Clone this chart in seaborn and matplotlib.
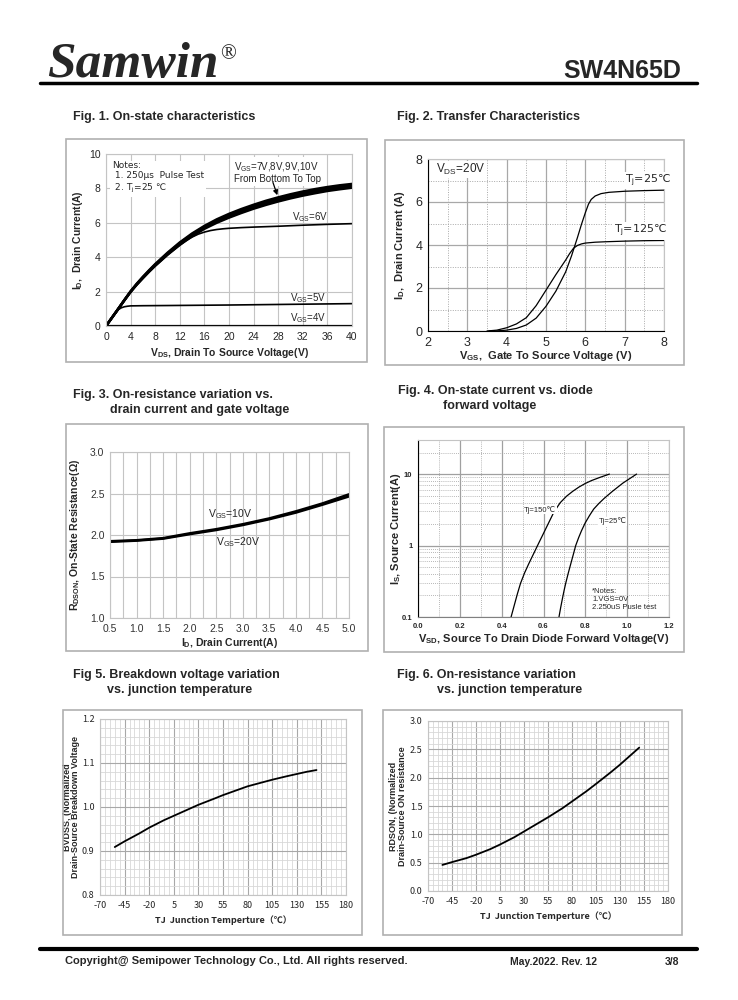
import matplotlib
matplotlib.use("Agg")
import matplotlib.pyplot as plt
import seaborn as sns
import numpy as np
from matplotlib.patches import Rectangle
from matplotlib.ticker import MultipleLocator, FixedLocator, NullFormatter

# Fig. 1 - on-state characteristics
fig1_vds = [0, 1, 2, 3, 4, 5, 6, 7, 8, 10, 12, 14, 16, 18, 20, 22, 24, 26, 28, 30, 32, 34, 36, 38, 40]
fig1_id_7v = [0, 0.5, 1.0, 1.5, 1.98, 2.4, 2.78, 3.15, 3.5, 4.14, 4.72, 5.22, 5.65, 6.0, 6.3, 6.57,
              6.82, 7.04, 7.24, 7.42, 7.58, 7.72, 7.85, 7.95, 8.04]
fig1_id_8v = [0, 0.5, 1.0, 1.5, 1.99, 2.42, 2.81, 3.18, 3.53, 4.18, 4.77, 5.27, 5.7, 6.07, 6.37, 6.65,
              6.9, 7.12, 7.32, 7.5, 7.66, 7.8, 7.93, 8.03, 8.11]
fig1_id_9v = [0, 0.5, 1.0, 1.51, 2.0, 2.44, 2.84, 3.21, 3.57, 4.22, 4.82, 5.33, 5.76, 6.14, 6.45, 6.73,
              6.98, 7.2, 7.4, 7.58, 7.74, 7.88, 8.01, 8.11, 8.19]
fig1_id_10v = [0, 0.5, 1.0, 1.52, 2.02, 2.46, 2.86, 3.24, 3.6, 4.26, 4.86, 5.38, 5.82, 6.2, 6.52, 6.8,
               7.05, 7.28, 7.48, 7.66, 7.82, 7.96, 8.08, 8.18, 8.26]
fig1_vds_6v = [0, 1, 2, 3, 4, 5, 6, 7, 8, 10, 12, 13, 14, 15, 16, 17, 18, 19, 20, 22, 24, 28, 32, 36, 40]
fig1_id_6v = [0, 0.5, 1.0, 1.5, 1.98, 2.4, 2.78, 3.15, 3.5, 4.14, 4.7, 4.96, 5.17, 5.34, 5.46, 5.55,
              5.61, 5.65, 5.68, 5.72, 5.75, 5.8, 5.86, 5.91, 5.95]
fig1_vds_5v = [0, 1, 2, 2.5, 3, 3.5, 4, 6, 10, 20, 30, 40]
fig1_id_5v = [0, 0.5, 0.95, 1.06, 1.12, 1.15, 1.17, 1.18, 1.19, 1.22, 1.26, 1.3]
fig1_vds_4v = [0, 40]
fig1_id_4v = [0.02, 0.02]

# Fig. 2 - transfer characteristics
fig2_vgs_25 = [3.55, 3.75, 4.0, 4.25, 4.5, 4.75, 5.0, 5.25, 5.5, 5.65, 5.8, 5.9, 6.0, 6.08, 6.15,
               6.25, 6.4, 6.6, 7.0, 7.5, 8.0]
fig2_id_25 = [0, 0.005, 0.04, 0.12, 0.28, 0.6, 1.15, 1.85, 2.75, 3.5, 4.35, 4.95, 5.5, 5.9, 6.12,
              6.28, 6.39, 6.45, 6.5, 6.53, 6.55]
fig2_vgs_125 = [3.5, 3.75, 4.0, 4.25, 4.5, 4.75, 5.0, 5.25, 5.5, 5.6, 5.7, 5.8, 5.9, 6.0, 6.25,
                6.5, 7.0, 7.5, 8.0]
fig2_id_125 = [0, 0.04, 0.15, 0.33, 0.62, 1.18, 1.9, 2.62, 3.3, 3.6, 3.85, 3.98, 4.05, 4.09, 4.13,
               4.15, 4.18, 4.2, 4.21]

# Fig. 3 - on-resistance vs drain current
fig3_id = [0.5, 1.0, 1.5, 2.0, 2.5, 3.0, 3.5, 4.0, 4.5, 5.0]
fig3_r_10v = [1.925, 1.937, 1.962, 2.02, 2.07, 2.13, 2.2, 2.285, 2.38, 2.49]
fig3_r_20v = [1.918, 1.932, 1.956, 2.01, 2.06, 2.12, 2.19, 2.27, 2.365, 2.465]

# Fig. 4 - diode forward voltage
fig4_vsd_150 = [0.445, 0.46, 0.475, 0.49, 0.51, 0.53, 0.55, 0.575, 0.6, 0.625, 0.65, 0.68,
                0.71, 0.74, 0.77, 0.80, 0.83, 0.87, 0.915]
fig4_is_150 = [0.1, 0.145, 0.21, 0.295, 0.417, 0.56, 0.74, 1.05, 1.48, 2.09, 2.95, 3.98,
               4.9, 5.75, 6.6, 7.4, 8.13, 9.0, 10]
fig4_vsd_25 = [0.674, 0.682, 0.69, 0.698, 0.706, 0.718, 0.73, 0.742, 0.754, 0.768, 0.782, 0.80,
               0.82, 0.84, 0.865, 0.89, 0.93, 0.98, 1.045]
fig4_is_25 = [0.1, 0.135, 0.178, 0.232, 0.295, 0.407, 0.55, 0.74, 1.0, 1.29, 1.62, 2.09,
              2.63, 3.24, 3.89, 4.57, 5.75, 7.5, 10]

# Fig. 5 / 6 - vs junction temperature
tj = [-55, -45, -30, -20, -5, 5, 20, 30, 45, 55, 70, 80, 95, 105, 120, 130, 140, 150]
fig5_bv = [0.909, 0.922, 0.94, 0.953, 0.97, 0.98, 0.995, 1.005, 1.018, 1.027, 1.039, 1.047,
           1.056, 1.062, 1.07, 1.075, 1.08, 1.084]
fig6_rdson = [0.46, 0.51, 0.58, 0.64, 0.74, 0.82, 0.95, 1.05, 1.2, 1.3, 1.46, 1.58,
              1.76, 1.89, 2.09, 2.23, 2.38, 2.53]
temp_ticks = [-70, -45, -20, 5, 30, 55, 80, 105, 130, 155, 180]

W, H = 738, 1000
GRID = '#c4c4c4'
NARROW = ['Liberation Sans Narrow', 'Noto Sans CJK SC', 'DejaVu Sans']

sns.set_style('white')
plt.rcParams['font.family'] = ['Liberation Sans', 'DejaVu Sans']
plt.rcParams['mathtext.fontset'] = 'custom'
plt.rcParams['mathtext.rm'] = 'Liberation Sans'
plt.rcParams['mathtext.it'] = 'Liberation Sans'
plt.rcParams['mathtext.bf'] = 'Liberation Sans:bold'
plt.rcParams['axes.unicode_minus'] = False


def fx(x):
    return x / W


def fy(y):
    return 1 - y / H


def frame(fig, x0, y0, x1, y1):
    fig.add_artist(Rectangle((fx(x0), fy(y1)), (x1 - x0) / W, (y1 - y0) / H,
                             transform=fig.transFigure, fill=False, ec='#b0b0b0', lw=1.2))


def make_ax(fig, x0, y0, x1, y1):
    ax = fig.add_axes([fx(x0), fy(y1), (x1 - x0) / W, (y1 - y0) / H])
    ax.set_axisbelow(True)
    for s in ax.spines.values():
        s.set_color(GRID)
        s.set_linewidth(0.8)
    return ax


def title(fig, x, y, s, size=9):
    fig.text(fx(x), fy(y), s, fontsize=size, fontweight='bold', va='center', ha='left')


fig = plt.figure(figsize=(7.38, 10), dpi=100)

# header / footer
fig.text(fx(47), fy(77), 'Samwin', family='Liberation Serif', fontsize=37,
         fontweight='bold', style='italic', va='baseline')
fig.text(fx(220), fy(59), '®', family='Liberation Serif', fontsize=15, va='baseline')
fig.text(fx(681), fy(78), 'SW4N65D', fontsize=18, fontweight='bold', ha='right', va='baseline')
fig.add_artist(plt.Line2D([fx(40), fx(697)], [fy(83), fy(83)], color='black', lw=2.5))
fig.add_artist(plt.Line2D([fx(40), fx(697)], [fy(949), fy(949)], color='black', lw=3))
fig.text(fx(65), fy(961), 'Copyright@ Semipower Technology Co., Ltd. All rights reserved.',
         fontsize=8, fontweight='bold', va='center')
fig.text(fx(510), fy(962), 'May.2022. Rev. 12', fontsize=7.5, fontweight='bold', va='center')
fig.text(fx(665), fy(962), '3/8', fontsize=7.5, fontweight='bold', va='center')

# ---------------- Fig 1 ----------------
title(fig, 73, 117, 'Fig. 1. On-state characteristics')
frame(fig, 66, 139, 367, 362)
ax = make_ax(fig, 106, 154, 352, 326)
for ids in (fig1_id_7v, fig1_id_8v, fig1_id_9v, fig1_id_10v):
    sns.lineplot(x=fig1_vds, y=ids, ax=ax, color='black', lw=1.8)
sns.lineplot(x=fig1_vds_6v, y=fig1_id_6v, ax=ax, color='black', lw=1.2)
sns.lineplot(x=fig1_vds_5v, y=fig1_id_5v, ax=ax, color='black', lw=1.2)
sns.lineplot(x=fig1_vds_4v, y=fig1_id_4v, ax=ax, color='black', lw=1.6)
ax.set_xlim(0, 40)
ax.set_ylim(0, 10)
ax.xaxis.set_major_locator(MultipleLocator(4))
ax.yaxis.set_major_locator(MultipleLocator(2))
ax.grid(True, color=GRID, lw=0.8)
ax.tick_params(length=0, labelsize=7.5, pad=4)
ax.set_xlabel(r'V$_\mathbf{DS}$, Drain To Source Voltage(V)', fontsize=7.5, fontweight='bold', labelpad=3)
ax.set_ylabel(r'I$_\mathbf{D}$,  Drain Current(A)', fontsize=7.5, fontweight='bold', labelpad=3)
ax.text(1.0, 9.6, 'Notes:\n 1. 250\u03bcs  Pulse Test\n 2. T$_\\mathrm{j}$=25 \u2103', fontsize=6.5,
        family='DejaVu Sans', va='top', ha='left', linespacing=1.2,
        bbox=dict(fc='white', ec='none', pad=1.5))
ax.text(20.8, 9.65, 'V$_\\mathrm{GS}$=7V,8V,9V,10V\nFrom Bottom To Top', fontsize=7,
        va='top', ha='left', linespacing=1.1, bbox=dict(fc='white', ec='none', pad=1.0))
ax.annotate('', xy=(28.0, 7.45), xytext=(27.0, 8.5),
            arrowprops=dict(arrowstyle='-|>', color='black', lw=0.9, mutation_scale=7))
ax.text(30.3, 6.36, 'V$_\\mathrm{GS}$=6V', fontsize=7, va='center')
ax.text(30.0, 1.62, 'V$_\\mathrm{GS}$=5V', fontsize=7, va='center')
ax.text(30.0, 0.46, 'V$_\\mathrm{GS}$=4V', fontsize=7, va='center')

# ---------------- Fig 2 ----------------
title(fig, 397, 117, 'Fig. 2. Transfer Characteristics')
frame(fig, 385, 140, 684, 365)
ax = make_ax(fig, 428, 159, 664, 331)
sns.lineplot(x=fig2_vgs_25, y=fig2_id_25, ax=ax, color='black', lw=0.9)
sns.lineplot(x=fig2_vgs_125, y=fig2_id_125, ax=ax, color='black', lw=0.9)
ax.set_xlim(2, 8)
ax.set_ylim(0, 8)
ax.xaxis.set_major_locator(MultipleLocator(1))
ax.xaxis.set_minor_locator(MultipleLocator(0.5))
ax.yaxis.set_major_locator(MultipleLocator(2))
ax.yaxis.set_minor_locator(MultipleLocator(1))
ax.grid(True, which='major', color='#a8a8a8', lw=0.9)
ax.grid(True, which='minor', color='#a8a8a8', lw=0.7, ls=(0, (1, 1.5)))
ax.spines['left'].set_color('black')
ax.spines['bottom'].set_color('black')
ax.tick_params(which='major', direction='out', length=3, width=0.8, color='black', labelsize=9, pad=1)
ax.tick_params(which='minor', direction='out', length=2, width=0.6, color='black')
ax.set_xlabel('V$_\\mathbf{GS}$,  Gate To Source Voltage (V)', fontsize=8, fontweight='bold', labelpad=0)
ax.set_ylabel('I$_\\mathbf{D}$,  Drain Current (A)', fontsize=8, fontweight='bold', labelpad=6)
ax.text(2.2, 7.5, 'V$_\\mathrm{DS}$=20V', fontsize=8.5, va='center',
        bbox=dict(fc='white', ec='none', pad=0.5))
ax.text(7.0, 7.0, 'T$_\\mathrm{j}$=25\u2103', fontsize=8, family='DejaVu Sans', va='center',
        bbox=dict(fc='white', ec='none', pad=0.5))
ax.text(6.72, 4.64, 'T$_\\mathrm{j}$=125\u2103', fontsize=8, family='DejaVu Sans', va='center',
        bbox=dict(fc='white', ec='none', pad=0.5))

# ---------------- Fig 3 ----------------
title(fig, 73, 395, 'Fig. 3. On-resistance variation vs.')
title(fig, 110, 410, 'drain current and gate voltage')
frame(fig, 66, 424, 368, 651)
ax = make_ax(fig, 110, 452, 349, 618)
sns.lineplot(x=fig3_id, y=fig3_r_10v, ax=ax, color='black', lw=1.8)
sns.lineplot(x=fig3_id, y=fig3_r_20v, ax=ax, color='black', lw=1.8)
ax.set_xlim(0.5, 5.0)
ax.set_ylim(1.0, 3.0)
ax.set_xticks(np.arange(0.5, 5.01, 0.5))
ax.xaxis.set_minor_locator(MultipleLocator(0.25))
ax.yaxis.set_major_locator(MultipleLocator(0.5))
ax.grid(True, which='both', axis='x', color=GRID, lw=0.8)
ax.grid(True, which='major', axis='y', color=GRID, lw=0.8)
ax.xaxis.set_major_formatter(plt.FuncFormatter(lambda v, p: f'{v:.1f}'))
ax.yaxis.set_major_formatter(plt.FuncFormatter(lambda v, p: f'{v:.1f}'))
ax.tick_params(which='both', length=0, labelsize=7.5, pad=4, labelcolor='#333333')
ax.set_xlabel('I$_\\mathbf{D}$, Drain Current(A)', fontsize=7.5, fontweight='bold', labelpad=2)
ax.set_ylabel('R$_\\mathbf{DSON}$, On-State Resistance(\u03a9)', fontsize=7.5, fontweight='bold', labelpad=6)
ax.text(2.34, 2.25, 'V$_\\mathrm{GS}$=10V', fontsize=7.5, va='center')
ax.text(2.49, 1.92, 'V$_\\mathrm{GS}$=20V', fontsize=7.5, va='center')

# ---------------- Fig 4 ----------------
title(fig, 398, 391, 'Fig. 4. On-state current vs. diode')
title(fig, 443, 406, 'forward voltage')
frame(fig, 384, 427, 684, 652)
ax = make_ax(fig, 418, 440, 669, 617)
sns.lineplot(x=fig4_vsd_150, y=fig4_is_150, ax=ax, color='black', lw=0.9, sort=False)
sns.lineplot(x=fig4_vsd_25, y=fig4_is_25, ax=ax, color='black', lw=0.9, sort=False)
ax.set_yscale('log')
ax.set_xlim(0, 1.2)
ax.set_ylim(0.1, 30)
ax.xaxis.set_major_locator(MultipleLocator(0.2))
ax.xaxis.set_minor_locator(MultipleLocator(0.1))
ax.yaxis.set_major_locator(FixedLocator([0.1, 1, 10]))
ax.yaxis.set_minor_locator(FixedLocator([0.2, 0.3, 0.4, 0.5, 0.6, 0.7, 0.8, 0.9,
                                         2, 3, 4, 5, 6, 7, 8, 9, 20, 30]))
ax.yaxis.set_minor_formatter(NullFormatter())
ax.yaxis.set_major_formatter(plt.FuncFormatter(lambda v, p: f'{v:g}'))
ax.xaxis.set_major_formatter(plt.FuncFormatter(lambda v, p: f'{v:.1f}'))
ax.grid(True, which='major', color='#a0a0a0', lw=0.9)
ax.grid(True, which='minor', color='#a0a0a0', lw=0.6, ls=(0, (1, 1.5)))
ax.spines['left'].set_color('black')
ax.spines['bottom'].set_color('#808080')
ax.tick_params(which='major', direction='out', length=2, width=0.7, color='black', labelsize=5.5, pad=2)
ax.tick_params(which='minor', length=0)
for lab in ax.get_xticklabels() + ax.get_yticklabels():
    lab.set_fontweight('bold')
ax.set_xlabel('V$_\\mathbf{SD}$, Source To Drain Diode Forward Voltage(V)', fontsize=8,
              fontweight='bold', labelpad=2)
ax.set_ylabel('I$_\\mathbf{S}$, Source Current(A)', fontsize=8, fontweight='bold')
ax.yaxis.set_label_coords(-0.058, 0.5)
ax.text(0.507, 3.17, 'Tj=150\u2103', fontsize=5.5, va='center', ha='left',
        bbox=dict(fc='white', ec='none', pad=0.3))
ax.text(0.862, 2.17, 'Tj=25\u2103', fontsize=5.5, va='center', ha='left',
        bbox=dict(fc='white', ec='none', pad=0.3))
ax.text(0.833, 0.12, '*Notes:\n1.VGS=0V\n2.250uS Pusle test', fontsize=5.5, va='bottom', ha='left',
        linespacing=1.25)

# ---------------- Fig 5 ----------------
title(fig, 73, 675, 'Fig 5. Breakdown voltage variation')
title(fig, 107, 690, 'vs. junction temperature')
frame(fig, 63, 710, 362, 935)
ax = make_ax(fig, 100, 719, 346, 895)
sns.lineplot(x=tj, y=fig5_bv, ax=ax, color='black', lw=1.3)
ax.set_xlim(-70, 180)
ax.set_ylim(0.8, 1.2)
ax.set_xticks(temp_ticks)
ax.xaxis.set_minor_locator(MultipleLocator(5))
ax.yaxis.set_major_locator(MultipleLocator(0.1))
ax.yaxis.set_minor_locator(MultipleLocator(0.02))
ax.yaxis.set_major_formatter(plt.FuncFormatter(lambda v, p: f'{v:.1f}'))
ax.grid(True, which='major', color='#a8a8a8', lw=0.8)
ax.grid(True, which='minor', color='#d8d8d8', lw=0.6)
ax.tick_params(which='both', length=0, labelsize=6.5, pad=4)
for lab in ax.get_xticklabels() + ax.get_yticklabels():
    lab.set_family(NARROW)
ax.set_xlabel('TJ  Junction Temperture\uff08\u2103\uff09', fontsize=6.5, fontweight='bold',
              family=NARROW, labelpad=4)
ax.set_ylabel('BVDSS, (Normalized\nDrain-Source Breakdown Voltage', fontsize=6.5,
              fontweight='bold', labelpad=1, linespacing=0.95)

# ---------------- Fig 6 ----------------
title(fig, 397, 675, 'Fig. 6. On-resistance variation')
title(fig, 437, 690, 'vs. junction temperature')
frame(fig, 383, 710, 682, 935)
ax = make_ax(fig, 428, 721, 668, 891)
sns.lineplot(x=tj, y=fig6_rdson, ax=ax, color='black', lw=1.3)
ax.set_xlim(-70, 180)
ax.set_ylim(0, 3.0)
ax.set_xticks(temp_ticks)
ax.xaxis.set_minor_locator(MultipleLocator(5))
ax.yaxis.set_major_locator(MultipleLocator(0.5))
ax.yaxis.set_minor_locator(MultipleLocator(0.1))
ax.yaxis.set_major_formatter(plt.FuncFormatter(lambda v, p: f'{v:.1f}'))
ax.grid(True, which='major', color='#a8a8a8', lw=0.8)
ax.grid(True, which='minor', color='#d8d8d8', lw=0.6)
ax.tick_params(which='both', length=0, labelsize=6.5, pad=4)
for lab in ax.get_xticklabels() + ax.get_yticklabels():
    lab.set_family(NARROW)
ax.set_xlabel('TJ  Junction Temperture\uff08\u2103\uff09', fontsize=6.5, fontweight='bold',
              family=NARROW, labelpad=4)
ax.set_ylabel('RDSON, (Normalized\nDrain-Source ON resistance', fontsize=6.5,
              fontweight='bold', labelpad=2, linespacing=0.95)

fig.savefig('out.png', dpi=100)
